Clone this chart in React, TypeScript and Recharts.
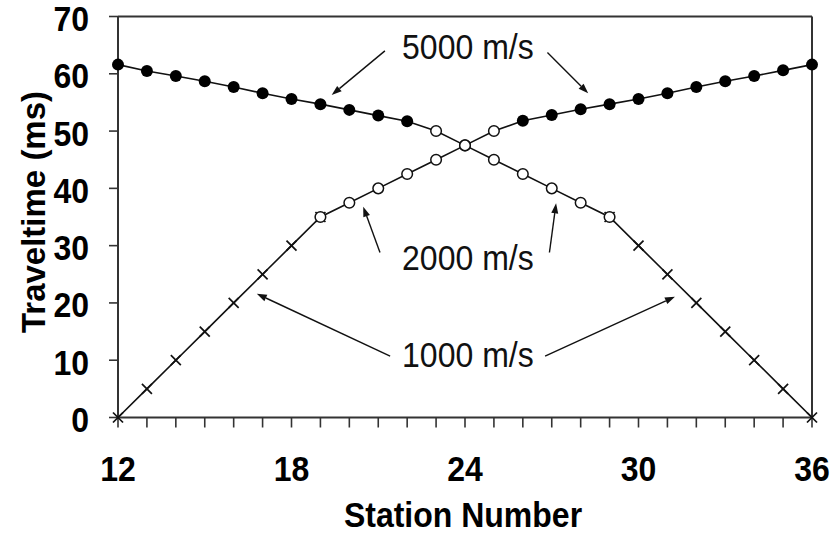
import React from "react";
import { ComposedChart, Line, XAxis, YAxis, ReferenceLine } from "recharts";

// stations along the spread
const stations = [12, 13, 14, 15, 16, 17, 18, 19, 20, 21, 22, 23, 24, 25, 26, 27, 28, 29, 30, 31, 32, 33, 34, 35, 36];

// shot at station 12 (traveltimes, ms)
const shotA = [0, 5, 10, 15, 20, 25, 30, 35, 37.5, 40, 42.5, 45, 47.5, 50, 51.8, 52.8, 53.8, 54.7, 55.6, 56.6, 57.7, 58.7, 59.6, 60.6, 61.6];
// shot at station 36
const shotB = [61.6, 60.5, 59.6, 58.7, 57.7, 56.6, 55.6, 54.7, 53.7, 52.7, 51.7, 50, 47.5, 45, 42.5, 40, 37.5, 35, 30, 25, 20, 15, 10, 5, 0];

// station ranges picked by each arrival (1000, 2000, 5000 m/s)
const rangesA = { v1000: [12, 19], v2000: [19, 25], v5000: [26, 36] };
const rangesB = { v1000: [29, 36], v2000: [23, 29], v5000: [12, 22] };

const yTicks = [0, 10, 20, 30, 40, 50, 60, 70];
const xLabels = [12, 18, 24, 30, 36];

const inRange = (s: number, r: number[]) => s >= r[0] && s <= r[1];

const rows = stations.map((s, i) => ({
  station: s,
  shotA: shotA[i],
  shotB: shotB[i],
  a1000: inRange(s, rangesA.v1000) ? shotA[i] : null,
  a2000: inRange(s, rangesA.v2000) ? shotA[i] : null,
  a5000: inRange(s, rangesA.v5000) ? shotA[i] : null,
  b1000: inRange(s, rangesB.v1000) ? shotB[i] : null,
  b2000: inRange(s, rangesB.v2000) ? shotB[i] : null,
  b5000: inRange(s, rangesB.v5000) ? shotB[i] : null,
}));

const W = 835;
const H = 536;
const PLOT = { left: 118, right: 812, top: 16.5, bottom: 417.5 };
const sx = (v: number) => PLOT.left + ((v - 12) / 24) * (PLOT.right - PLOT.left);
const sy = (v: number) => PLOT.bottom - (v / 70) * (PLOT.bottom - PLOT.top);

const ink = "#111";
const axisColor = "#333";
const font = "'Liberation Sans', Arial, sans-serif";
const stretch = 1.08; // the source figure's lettering is a bit tall

// annotation arrows, in data units: [fromStation, fromMs, toStation, toMs]
const arrows = [
  [21.23, 64.0, 19.39, 56.3],
  [26.85, 63.7, 28.26, 56.6],
  [21.06, 28.8, 20.48, 36.8],
  [26.92, 28.8, 27.15, 37.4],
  [21.41, 10.7, 16.8, 21.6],
  [26.77, 10.7, 31.26, 21.1],
];
const notes = [
  { text: "5000 m/s", station: 24.1, ms: 62.5 },
  { text: "2000 m/s", station: 24.1, ms: 25.8 },
  { text: "1000 m/s", station: 24.1, ms: 8.8 },
];

function TallText({ x, y, children, ...rest }: any) {
  return (
    <text
      x={x}
      y={y}
      transform={`translate(0 ${y}) scale(1 ${stretch}) translate(0 ${-y})`}
      fontFamily={font}
      {...rest}
    >
      {children}
    </text>
  );
}

function Cross(props: any) {
  const { cx, cy, value } = props;
  if (value == null || cx == null || cy == null) return <g />;
  const r = 5;
  return (
    <g stroke={ink} strokeWidth={1.7}>
      <line x1={cx - r} y1={cy - r} x2={cx + r} y2={cy + r} />
      <line x1={cx - r} y1={cy + r} x2={cx + r} y2={cy - r} />
    </g>
  );
}

function OpenDot(props: any) {
  const { cx, cy, value } = props;
  if (value == null || cx == null || cy == null) return <g />;
  return <circle cx={cx} cy={cy} r={5.3} fill="#fff" stroke={ink} strokeWidth={1.5} />;
}

function FilledDot(props: any) {
  const { cx, cy, value } = props;
  if (value == null || cx == null || cy == null) return <g />;
  return <circle cx={cx} cy={cy} r={6} fill="#000" stroke="none" />;
}

function XTick(props: any) {
  const { x, y, payload } = props;
  if (!xLabels.includes(payload.value)) return <g />;
  return (
    <TallText x={x} y={y + 54} textAnchor="middle" fontWeight="bold" fontSize={32} fill="#000">
      {payload.value}
    </TallText>
  );
}

function YTick(props: any) {
  const { x, y, payload } = props;
  return (
    <TallText x={x} y={y + 14.5} textAnchor="end" fontWeight="bold" fontSize={32} fill="#000">
      {payload.value}
    </TallText>
  );
}

function Arrow({ a }: { a: number[] }) {
  const x1 = sx(a[0]);
  const y1 = sy(a[1]);
  const x2 = sx(a[2]);
  const y2 = sy(a[3]);
  const len = Math.hypot(x2 - x1, y2 - y1);
  const ux = (x2 - x1) / len;
  const uy = (y2 - y1) / len;
  const hl = 10;
  const hw = 3.5;
  const bx = x2 - ux * hl;
  const by = y2 - uy * hl;
  return (
    <g>
      <line x1={x1} y1={y1} x2={bx} y2={by} stroke={ink} strokeWidth={1.4} />
      <polygon
        points={`${x2},${y2} ${bx - uy * hw},${by + ux * hw} ${bx + uy * hw},${by - ux * hw}`}
        fill={ink}
      />
    </g>
  );
}

export default function App() {
  return (
    <div style={{ position: "absolute", left: 0, top: 0, width: W, height: H, background: "#fff" }}>
      <ComposedChart width={W} height={H} data={rows} margin={{ top: 16.5, right: 23, bottom: 58.5, left: 58 }}>
        <XAxis
          dataKey="station"
          type="number"
          domain={[12, 36]}
          ticks={stations}
          interval={0}
          height={60}
          tickSize={10}
          tickMargin={0}
          stroke={axisColor}
          axisLine={{ stroke: axisColor, strokeWidth: 2 }}
          tickLine={{ stroke: axisColor, strokeWidth: 1.6 }}
          tick={<XTick />}
        />
        <YAxis
          type="number"
          domain={[0, 70]}
          ticks={yTicks}
          interval={0}
          width={60}
          tickSize={9}
          tickMargin={20}
          axisLine={{ stroke: axisColor, strokeWidth: 2 }}
          tickLine={{ stroke: axisColor, strokeWidth: 1.6 }}
          tick={<YTick />}
        />
        <ReferenceLine y={70} stroke={axisColor} strokeWidth={2} />
        <ReferenceLine x={36} stroke={axisColor} strokeWidth={2} />
        <Line dataKey="shotA" stroke={ink} strokeWidth={1.6} dot={false} type="linear" isAnimationActive={false} />
        <Line dataKey="shotB" stroke={ink} strokeWidth={1.6} dot={false} type="linear" isAnimationActive={false} />
        <Line dataKey="a1000" stroke="none" dot={<Cross />} activeDot={false} isAnimationActive={false} />
        <Line dataKey="b1000" stroke="none" dot={<Cross />} activeDot={false} isAnimationActive={false} />
        <Line dataKey="a2000" stroke="none" dot={<OpenDot />} activeDot={false} isAnimationActive={false} />
        <Line dataKey="b2000" stroke="none" dot={<OpenDot />} activeDot={false} isAnimationActive={false} />
        <Line dataKey="a5000" stroke="none" dot={<FilledDot />} activeDot={false} isAnimationActive={false} />
        <Line dataKey="b5000" stroke="none" dot={<FilledDot />} activeDot={false} isAnimationActive={false} />
      </ComposedChart>
      <svg width={W} height={H} style={{ position: "absolute", left: 0, top: 0, pointerEvents: "none" }}>
        {arrows.map((a, i) => (
          <Arrow key={i} a={a} />
        ))}
        {notes.map((n) => (
          <TallText key={n.text} x={sx(n.station)} y={sy(n.ms)} textAnchor="middle" fontSize={32} fill="#111">
            {n.text}
          </TallText>
        ))}
        <text
          x={45}
          y={212}
          transform="rotate(-90, 45, 212)"
          textAnchor="middle"
          fontFamily={font}
          fontWeight="bold"
          fontSize={33}
          fill="#000"
        >
          Traveltime (ms)
        </text>
        <TallText x={463} y={527} textAnchor="middle" fontWeight="bold" fontSize={32} fill="#000">
          Station Number
        </TallText>
      </svg>
    </div>
  );
}
